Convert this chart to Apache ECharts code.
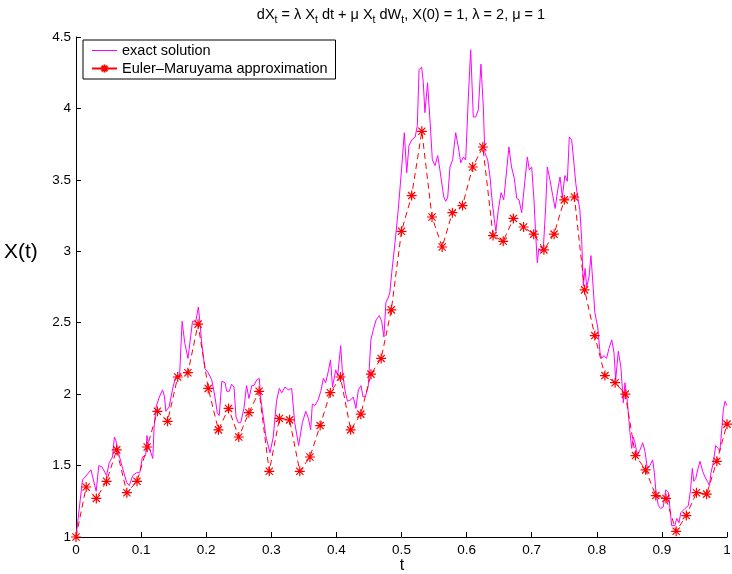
<!DOCTYPE html>
<html>
<head>
<meta charset="UTF-8">
<title>Euler-Maruyama</title>
<script src="https://cdn.jsdelivr.net/npm/echarts@6/dist/echarts.min.js"></script>
</head>
<body style="margin:0">
<div id="main" style="width:732px;height:574px;"></div>
<script type="text/javascript">
// exact solution
var exactT = [0,0.010,0.014,0.023,0.025,0.031,0.035,0.040,0.047,0.051,0.056,0.059,0.061,0.064,0.071,0.078,0.082,0.087,0.093,0.098,
  0.102,0.107,0.109,0.112,0.115,0.118,0.120,0.123,0.128,0.133,0.136,0.138,0.143,0.149,0.154,0.159,0.163,0.165,0.167,0.172,
  0.179,0.184,0.188,0.1905,0.193,0.198,0.203,0.2085,0.2135,0.217,0.220,0.224,0.229,0.2315,0.2355,0.239,0.2427,0.2458,0.2493,0.253,
  0.258,0.262,0.2657,0.270,0.2734,0.2776,0.2816,0.284,0.2877,0.2919,0.298,0.303,0.308,0.3123,0.316,0.321,0.326,0.3313,0.336,0.342,
  0.3477,0.353,0.357,0.3605,0.363,0.367,0.372,0.376,0.380,0.3835,0.3876,0.391,0.394,0.399,0.402,0.4066,0.409,0.413,0.417,0.422,
  0.426,0.430,0.4337,0.4378,0.441,0.445,0.449,0.453,0.4567,0.461,0.466,0.4695,0.473,0.476,0.480,0.482,0.485,0.490,0.495,0.500,
  0.5043,0.508,0.5115,0.5157,0.521,0.5243,0.527,0.531,0.5335,0.536,0.540,0.544,0.5474,0.5515,0.5556,0.559,0.5627,0.565,0.568,0.571,
  0.5745,0.5786,0.5832,0.5873,0.591,0.595,0.5986,0.6027,0.6063,0.6103,0.614,0.618,0.622,0.6257,0.628,0.6324,0.636,0.6395,0.6426,0.645,
  0.6487,0.653,0.657,0.6605,0.665,0.669,0.6733,0.677,0.6805,0.6846,0.6897,0.6933,0.6963,0.700,0.7035,0.706,0.7086,0.711,0.714,0.718,
  0.7215,0.724,0.728,0.7323,0.736,0.740,0.7435,0.747,0.751,0.7547,0.7578,0.7614,0.764,0.7676,0.7706,0.774,0.7768,0.7793,0.782,0.7845,
  0.788,0.791,0.7947,0.797,0.8014,0.805,0.8075,0.811,0.815,0.8187,0.823,0.8264,0.829,0.833,0.837,0.8407,0.8433,0.8469,0.851,0.8536,
  0.856,0.8587,0.8622,0.8664,0.8705,0.874,0.8776,0.8817,0.8858,0.8884,0.891,0.8945,0.898,0.902,0.906,0.910,0.9124,0.915,0.920,0.9228,
  0.9263,0.929,0.9355,0.9406,0.944,0.9467,0.949,0.952,0.955,0.9585,0.9627,0.9662,0.970,0.973,0.9754,0.979,0.9826,0.9866,0.989,0.992,
  0.9943,0.997,1.000];
var exactX = [1.00,1.40,1.42,1.47,1.47,1.32,1.50,1.49,1.43,1.52,1.56,1.70,1.68,1.61,1.49,1.38,1.36,1.43,1.45,1.45,
  1.56,1.57,1.71,1.63,1.64,1.55,1.77,1.91,1.98,2.03,1.98,1.88,1.91,2.05,2.13,2.12,2.51,2.51,2.36,2.25,
  2.51,2.51,2.61,2.50,2.36,2.18,2.15,2.10,1.98,1.87,1.85,2.09,2.08,2.02,2.02,2.07,2.05,1.84,1.80,1.80,
  1.90,2.06,1.97,2.06,2.06,2.10,2.11,1.96,1.84,1.70,1.59,1.70,1.95,2.04,2.01,2.05,2.03,2.04,1.80,1.64,
  1.80,1.88,1.83,1.75,1.93,1.92,1.96,2.02,2.11,2.08,2.16,2.24,2.05,2.17,2.13,2.34,2.17,2.03,1.95,1.96,
  1.98,1.90,2.03,2.06,1.98,1.99,2.06,2.38,2.45,2.52,2.55,2.51,2.40,2.64,2.68,2.71,2.85,3.06,3.29,3.57,
  3.83,3.55,3.74,3.78,3.80,3.88,4.27,4.29,4.18,3.97,4.18,3.90,3.64,3.60,3.67,3.57,3.45,3.38,3.35,3.38,
  3.59,3.64,3.83,3.73,3.62,3.66,3.64,4.08,4.41,3.94,3.94,3.99,4.31,4.01,3.69,3.64,3.52,3.34,3.22,3.14,
  3.29,3.41,3.36,3.52,3.73,3.59,3.51,3.37,3.36,3.27,3.50,3.66,3.57,3.59,3.36,3.13,2.92,3.02,3.00,3.03,
  3.31,3.59,3.50,3.39,3.30,3.43,3.52,3.38,3.53,3.49,3.80,3.78,3.66,3.48,3.38,3.29,3.08,2.76,2.88,2.75,
  2.82,2.97,2.73,2.57,2.47,2.29,2.25,2.27,2.25,2.32,2.38,2.29,2.10,2.30,2.19,1.94,2.08,1.95,1.73,1.62,
  1.70,1.66,1.57,1.61,1.66,1.60,1.48,1.50,1.54,1.45,1.31,1.22,1.20,1.21,1.33,1.31,1.20,1.08,1.08,1.13,
  1.10,1.17,1.20,1.22,1.33,1.48,1.39,1.41,1.47,1.53,1.46,1.42,1.39,1.36,1.45,1.52,1.64,1.62,1.60,1.75,
  1.89,1.95,1.92];

// Euler-Maruyama approximation, 64 steps
var emStep = 1 / 64;
var emX = [1.00,1.35,1.27,1.39,1.61,1.31,1.39,1.63,1.88,1.81,2.12,2.15,2.49,2.04,1.75,1.90,1.70,1.87,2.02,1.46,
  1.83,1.82,1.46,1.56,1.78,2.01,2.12,1.75,1.86,2.14,2.25,2.59,3.14,3.39,3.84,3.24,3.03,3.27,3.32,3.59,
  3.73,3.11,3.07,3.23,3.17,3.12,3.01,3.12,3.36,3.38,2.73,2.41,2.13,2.08,2.00,1.57,1.47,1.29,1.27,1.04,
  1.15,1.31,1.30,1.53,1.79];

var names = ['exact solution', 'Euler\u2013Maruyama approximation'];

var exactData = exactT.map(function (t, i) { return [t, exactX[i]]; });
var emData = emX.map(function (x, i) { return [i * emStep, x]; });

var star = 'path://M0,-5L0,5M-5,0L5,0M-3.6,-3.6L3.6,3.6M-3.6,3.6L3.6,-3.6';
var font = 'Liberation Sans';

var myChart = echarts.init(document.getElementById('main'));
var option = {
    animation: false,
    textStyle: { fontFamily: font },
    grid: { left: 76, right: 5, top: 37, bottom: 37, outerBoundsMode: 'none', containLabel: false },
    graphic: [
        {
            type: 'text', x: 401, y: 15,
            style: {
                text: '{n|dX}{s|t}{n| = \u03bb X}{s|t}{n| dt + \u03bc X}{s|t}{n| dW}{s|t}{n|, X(0) = 1, \u03bb = 2, \u03bc = 1}',
                align: 'center', verticalAlign: 'middle',
                rich: {
                    n: { fontSize: 14.5, fontFamily: font, lineHeight: 16, fill: '#000' },
                    s: { fontSize: 10.5, fontFamily: font, lineHeight: 10, padding: [10, 0, 0, 0], fill: '#000' }
                }
            }
        },
        {
            type: 'text', x: 4, y: 252,
            style: { text: 'X(t)', fontSize: 21, fontFamily: font, fill: '#000', verticalAlign: 'middle' }
        },
        {
            type: 'text', x: 402, y: 566,
            style: { text: 't', fontSize: 16, fontFamily: font, fill: '#000', align: 'center', verticalAlign: 'middle' }
        }
    ],
    legend: {
        left: 83, top: 40,
        orient: 'vertical',
        padding: [3, 8, 3, 8],
        itemGap: 3,
        itemWidth: 25,
        itemHeight: 10,
        borderColor: '#000',
        borderWidth: 1,
        backgroundColor: '#fff',
        textStyle: { fontSize: 14.5, color: '#000', fontFamily: font },
        data: [
            { name: names[0], icon: 'path://M0,0L25,0L25,1L0,1Z' },
            { name: names[1], lineStyle: { type: 'solid' } }
        ]
    },
    xAxis: {
        type: 'value', min: 0, max: 1, interval: 0.1,
        axisLine: { lineStyle: { color: '#000' } },
        axisTick: { inside: true, length: 5, lineStyle: { color: '#000' } },
        axisLabel: { fontSize: 13.5, color: '#000', margin: 6 },
        splitLine: { show: false }
    },
    yAxis: {
        type: 'value', min: 1, max: 4.5, interval: 0.5,
        axisLine: { show: true, lineStyle: { color: '#000' } },
        axisTick: { show: true, inside: true, length: 5, lineStyle: { color: '#000' } },
        axisLabel: { fontSize: 13.5, color: '#000', margin: 5 },
        splitLine: { show: false }
    },
    series: [
        {
            name: names[0], type: 'line', data: exactData,
            showSymbol: false, symbol: 'none',
            lineStyle: { color: '#ff00ff', width: 1 },
            itemStyle: { color: '#ff00ff' },
            z: 2
        },
        {
            name: names[1], type: 'line', data: emData,
            symbol: star, symbolSize: 10,
            lineStyle: { color: '#ff0000', width: 1, type: [6, 4] },
            itemStyle: { color: '#ff0000', borderColor: '#ff0000', borderWidth: 1.2 },
            z: 3
        }
    ]
};
myChart.setOption(option);
</script>
</body>
</html>
